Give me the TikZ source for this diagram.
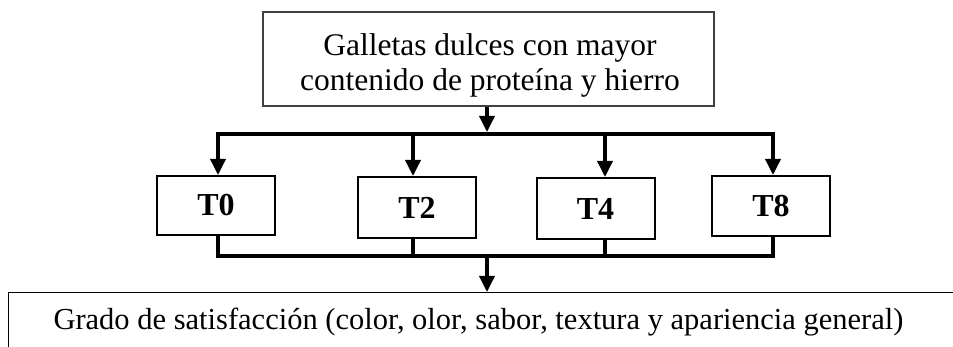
\documentclass[tikz,border=0pt]{standalone}
\usepackage{fontspec}
\setmainfont{Liberation Serif}
\usetikzlibrary{arrows.meta}
\begin{document}
\begin{tikzpicture}[x=1pt,y=-1pt,
  topbox/.style={draw=black!75,line width=1.4pt,minimum width=451pt,minimum height=94pt,inner sep=0pt},
  tbox/.style={draw,line width=2pt,minimum width=118pt,inner sep=0pt,font=\fontsize{32}{36}\selectfont\bfseries},
  botbox/.style={draw,line width=1.4pt,minimum width=960pt,minimum height=70pt,inner sep=0pt},
  bus/.style={line width=4pt,line cap=rect},
  stem/.style={line width=3.5pt},
  arr/.style={line width=3.5pt,-{Triangle[width=15pt,length=16pt]}}
]
\clip (0,0) rectangle (953,347);
\useasboundingbox (0,0) rectangle (953,347);

% top box
\node[topbox] (top) at (488.5,59) {};
\node[font=\fontsize{31.5}{35}\selectfont,align=center,inner sep=0pt] (toptext) at (490,65)
  {Galletas dulces con mayor\\contenido de proteína y hierro};

% treatment boxes
\node[tbox,minimum height=59pt] (T0) at (216,205.5) {T0};
\node[tbox,minimum height=61pt] (T2) at (417,207.5) {T2};
\node[tbox,minimum height=61pt] (T4) at (595.5,208.5) {T4};
\node[tbox,minimum height=60pt] (T8) at (771,206) {T8};

% bottom box
\node[botbox,anchor=north west] (bot) at (8,292) {};
\node[font=\fontsize{30.5}{34}\selectfont,anchor=base,inner sep=0pt] (bottext) at (478.5,330)
  {Grado de satisfacción (color, olor, sabor, textura y apariencia general)};

% upper bus
\coordinate (a0) at (218,134);
\coordinate (a2) at (413,134);
\coordinate (a4) at (605,134);
\coordinate (a8) at (773,134);
\coordinate (am) at (487,132);
\draw[bus] (a0) -- (a8);
\draw[arr] (top.south -| am) -- (am);
\draw[arr] (a0) -- (a0 |- T0.north);
\draw[arr] (a2) -- (a2 |- T2.north);
\draw[arr] (a4) -- (a4 |- T4.north);
\draw[arr] (a8) -- (a8 |- T8.north);

% lower bus
\coordinate (c0) at (218,256);
\coordinate (c2) at (413,256);
\coordinate (c4) at (605,256);
\coordinate (c8) at (773,256);
\coordinate (cm) at (487,256);
\draw[stem] (T0.south -| c0) -- (c0);
\draw[stem] (T2.south -| c2) -- (c2);
\draw[stem] (T4.south -| c4) -- (c4);
\draw[stem] (T8.south -| c8) -- (c8);
\draw[bus] (c0) -- (c8);
\draw[arr] (cm) -- (cm |- bot.north);
\end{tikzpicture}
\end{document}
